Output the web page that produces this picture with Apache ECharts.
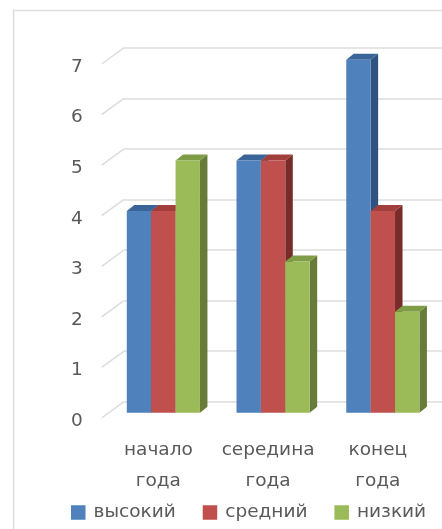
<!DOCTYPE html>
<html><head><meta charset="utf-8">
<style>html,body{margin:0;padding:0;background:#fff;overflow:hidden}#c{width:442px;height:529px;filter:blur(0.45px)}</style>
<script src="https://cdn.jsdelivr.net/npm/echarts@6/dist/echarts.min.js"></script>
</head><body><div id="c"></div>
<script>
const categories = ['начало\nгода', 'середина\nгода', 'конец\nгода'];
const seriesNames = ['высокий', 'средний', 'низкий'];
const high = [4, 5, 7];
const mid = [4, 5, 4];
const low = [5, 3, 2];
const yTicks = [0, 1, 2, 3, 4, 5, 6, 7];
const frontColors = ['#4F81BD', '#C0504D', '#9BBB59'];
const topColors = ['#3A6598', '#A23F3D', '#7F9C46'];
const sideColors = ['#2F5280', '#772C2A', '#667C38'];
const DX = 7.5, DY = 6;
const textColor = '#595959';
const font = '"DejaVu Sans"';

function bar3d(params, api) {
  const s = params.seriesIndex;
  const cat = api.value(0), v = api.value(1);
  const band = api.size([1, 0])[0];
  const w = band * 2 / 9;
  const top = api.coord([cat, v]);
  const base = api.coord([cat, 0]);
  const x0 = top[0] - 1.5 * w + s * w, x1 = x0 + w, y0 = top[1], y1 = base[1];
  return { type: 'group', children: [
    { type: 'polygon', shape: { points: [[x1, y0], [x1 + DX, y0 - DY], [x1 + DX, y1 - DY], [x1, y1]] }, style: { fill: sideColors[s] } },
    { type: 'polygon', shape: { points: [[x0, y0], [x0 + DX, y0 - DY], [x1 + DX, y0 - DY], [x1, y0]] }, style: { fill: topColors[s] } },
    { type: 'rect', shape: { x: x0, y: y0, width: w, height: y1 - y0 }, style: { fill: frontColors[s] } }
  ]};
}
function barSeries(i, vals) {
  return { name: seriesNames[i], type: 'custom', xAxisIndex: 0, yAxisIndex: 0, clip: false, z: 5,
    itemStyle: { color: frontColors[i] }, encode: { x: 0, y: 1 },
    renderItem: bar3d, data: vals.map((v, k) => [k, v]) };
}
const chart = echarts.init(document.getElementById('c'), null, { renderer: 'canvas' });
chart.setOption({
  animation: false,
  backgroundColor: '#fff',
  graphic: [{ type: 'polyline', z: 0, shape: { points: [[13.5, 540], [13.5, 10.5], [450, 10.5]] }, style: { fill: 'none', stroke: '#dcdcdc', lineWidth: 1.5 } }],
  grid: [
    { left: 108.5, width: 329.2, top: 59.7, height: 353 },
    { left: 124, width: 320, top: 47.7, height: 354 },
    { left: 101.7, width: 22.3, top: 64, height: 354 },
    { left: 101.7, width: 22.3, top: 67, height: 354 }
  ],
  xAxis: [
    { gridIndex: 0, type: 'category', data: categories, axisLine: { show: false }, axisTick: { show: false },
      axisLabel: { interval: 0, hideOverlap: false, color: textColor, fontFamily: font, fontSize: 18.5, lineHeight: 31, margin: 22, padding: [0, 10, 0, 0] } },
    { gridIndex: 1, type: 'value', show: false },
    { gridIndex: 2, type: 'value', min: 0, max: 1, show: false },
    { gridIndex: 3, type: 'value', min: 0, max: 1, show: false }
  ],
  yAxis: [
    { gridIndex: 0, type: 'value', min: 0, max: 7, interval: 1, show: false },
    { gridIndex: 1, type: 'value', min: 0, max: 7, interval: 1, axisLabel: { show: false }, axisLine: { show: false }, axisTick: { show: false },
      splitLine: { lineStyle: { color: '#dcdcdc', width: 1.5 } } },
    { gridIndex: 2, type: 'value', min: 0, max: 7, interval: 1, show: false },
    { gridIndex: 3, type: 'value', min: 0, max: 7, interval: 1, axisLine: { show: false }, axisTick: { show: false }, splitLine: { show: false },
      axisLabel: { color: textColor, fontFamily: font, fontSize: 18.5, margin: 19 } }
  ],
  legend: { data: seriesNames.map(n => ({ name: n, icon: 'rect' })), left: 66, top: 498, orient: 'horizontal', itemWidth: 14.5, itemHeight: 14.5, itemGap: 27,
    textStyle: { color: textColor, fontFamily: font, fontSize: 18.5, padding: [2, 0, 0, 3] } },
  series: [
    barSeries(0, high), barSeries(1, mid), barSeries(2, low),
    { type: 'custom', xAxisIndex: 2, yAxisIndex: 2, clip: false, z: 1, silent: true, encode: { x: 0, y: 1 },
      renderItem(params, api) {
        const a = api.coord([0, api.value(1)]), b = api.coord([1, api.value(1)]);
        return { type: 'line', shape: { x1: a[0], y1: a[1], x2: b[0], y2: b[1] - 16.3 }, style: { stroke: '#dcdcdc', lineWidth: 1.5 } };
      },
      data: yTicks.map(t => [0, t]) }
  ]
});
</script></body></html>
